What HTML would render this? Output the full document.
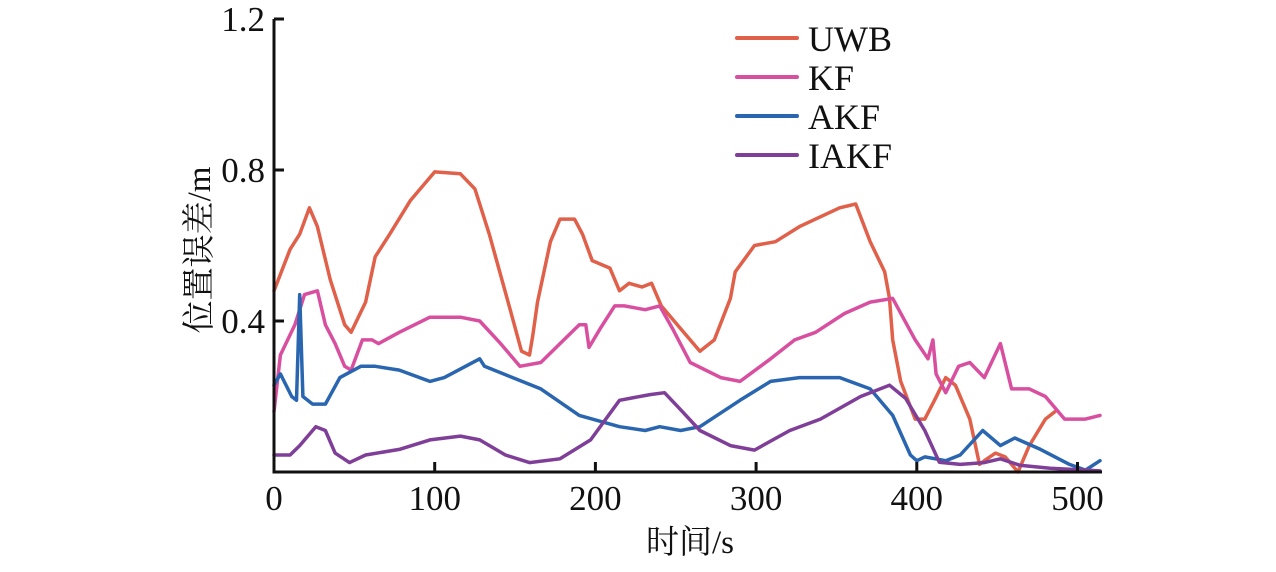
<!DOCTYPE html>
<html><head><meta charset="utf-8"><style>
body{margin:0;background:#fff;}
svg text{font-family:"Liberation Serif","Noto Serif CJK SC",serif;fill:#111;}
</style></head><body>
<svg width="1276" height="567" viewBox="0 0 1276 567" xmlns="http://www.w3.org/2000/svg">
<g id="plot"></g>
<g id="axes"></g>
<g id="legend"></g>
</svg>
<script>
const xTicks=[0,100,200,300,400,500];
const yTicks=[0.4,0.8,1.2];
const yTickLabels=["0.4","0.8","1.2"];
const seriesNames=["UWB","KF","AKF","IAKF"];
const seriesColors=["#e0604a","#d94fa0","#2a66b0","#7f3f98"];
const uwbT=[0,10,16,22,27,35,44,48,57,63,72,85,100,116,125,134,147,154,159,161,164,172,178,187,192,198,209,215,221,229,235,241,253,265,274,284,287,299,312,327,352,362,371,380,383,385,390,399,405,411,418,424,433,439,442,449,455,463,470,480,486];
const uwbV=[0.48,0.59,0.63,0.70,0.65,0.51,0.39,0.37,0.45,0.57,0.63,0.72,0.795,0.79,0.75,0.63,0.43,0.32,0.31,0.36,0.45,0.61,0.67,0.67,0.63,0.56,0.54,0.48,0.50,0.49,0.50,0.44,0.38,0.32,0.35,0.46,0.53,0.60,0.61,0.65,0.70,0.71,0.61,0.53,0.46,0.35,0.24,0.14,0.14,0.19,0.25,0.23,0.14,0.02,0.03,0.05,0.04,0.00,0.07,0.14,0.16];
const kfT=[0,4,13,19,27,32,38,44,48,55,61,65,78,97,116,128,141,153,166,178,190,194,196,203,212,218,231,240,248,259,278,290,309,324,337,355,371,385,399,407,410,412,418,426,433,442,452,459,470,480,492,505,514];
const kfV=[0.16,0.31,0.39,0.47,0.48,0.39,0.34,0.28,0.27,0.35,0.35,0.34,0.37,0.41,0.41,0.40,0.34,0.28,0.29,0.34,0.39,0.39,0.33,0.38,0.44,0.44,0.43,0.44,0.38,0.29,0.25,0.24,0.30,0.35,0.37,0.42,0.45,0.46,0.35,0.30,0.35,0.26,0.21,0.28,0.29,0.25,0.34,0.22,0.22,0.20,0.14,0.14,0.15];
const akfT=[0,4,11,14,16,18,24,32,41,54,63,78,97,106,128,131,166,190,215,231,240,253,265,290,309,327,352,371,385,396,400,405,418,427,441,452,461,477,495,505,514];
const akfV=[0.23,0.26,0.20,0.19,0.47,0.20,0.18,0.18,0.25,0.28,0.28,0.27,0.24,0.25,0.30,0.28,0.22,0.15,0.12,0.11,0.12,0.11,0.12,0.19,0.24,0.25,0.25,0.22,0.15,0.045,0.03,0.04,0.03,0.045,0.11,0.07,0.09,0.06,0.02,0.005,0.03];
const iakfT=[0,10,16,26,32,38,47,57,78,97,116,128,144,159,178,197,215,234,243,253,265,284,299,321,340,365,383,393,405,414,427,442,452,464,483,514];
const iakfV=[0.045,0.045,0.07,0.12,0.11,0.05,0.025,0.045,0.06,0.085,0.095,0.085,0.045,0.025,0.035,0.085,0.19,0.205,0.21,0.165,0.11,0.07,0.058,0.11,0.14,0.20,0.23,0.195,0.11,0.026,0.02,0.025,0.035,0.018,0.01,0.003];
const seriesT=[uwbT,kfT,akfT,iakfT];
const seriesV=[uwbV,kfV,akfV,iakfV];

const X0=274,PX=1.607,Y0=472,PY=377.5;
const xs=t=>X0+t*PX, ys=v=>Y0-v*PY;
const NS="http://www.w3.org/2000/svg";
function mk(tag,attrs,parent){const e=document.createElementNS(NS,tag);for(const k in attrs)e.setAttribute(k,attrs[k]);parent.appendChild(e);return e;}
const plot=document.getElementById('plot'),axes=document.getElementById('axes'),legend=document.getElementById('legend');
seriesNames.forEach((n,i)=>{
  const d=seriesT[i].map((t,j)=>(j?'L':'M')+xs(t).toFixed(1)+' '+ys(seriesV[i][j]).toFixed(1)).join(' ');
  const p=mk('path',{d:d,fill:'none',stroke:seriesColors[i],'stroke-width':3.5,'stroke-linejoin':'round','stroke-linecap':'round'},plot);
  
  
  const ly=38+i*39;
  const l=mk('line',{x1:737,x2:797,y1:ly,y2:ly,stroke:seriesColors[i],'stroke-width':4,'stroke-linecap':'round'},legend);
  
  
  const tx=mk('text',{x:808,y:ly+13,'font-size':36},legend);tx.textContent=n;
  
  
});
const ax=mk('path',{d:`M${X0} 19 L${X0} ${Y0} L1102 ${Y0}`,fill:'none',stroke:'#111','stroke-width':3},axes);


mk('line',{x1:X0,x2:X0+10,y1:19,y2:19,stroke:'#111','stroke-width':3},axes);
xTicks.forEach(t=>{
  if(t>0){const tk=mk('line',{x1:xs(t),x2:xs(t),y1:Y0,y2:Y0-10,stroke:'#111','stroke-width':3},axes);
  
  }
  const tl=mk('text',{x:xs(t),y:Y0+38,'font-size':35,'text-anchor':'middle'},axes);tl.textContent=t;
  
  
});
yTicks.forEach((v,i)=>{
  const tk=mk('line',{x1:X0,x2:X0+10,y1:ys(v),y2:ys(v),stroke:'#111','stroke-width':3},axes);
  
  
  const tl=mk('text',{x:X0-9,y:ys(v)+12,'font-size':35,'text-anchor':'end'},axes);tl.textContent=yTickLabels[i];
  
  
});
const xt=mk('text',{x:690,y:553,'font-size':33,'text-anchor':'middle'},axes);xt.textContent='时间/s';


const yt=mk('text',{x:0,y:0,'font-size':33,'text-anchor':'middle',transform:'translate(210,250) rotate(-90)'},axes);yt.textContent='位置误差/m';


</script>
</body></html>
